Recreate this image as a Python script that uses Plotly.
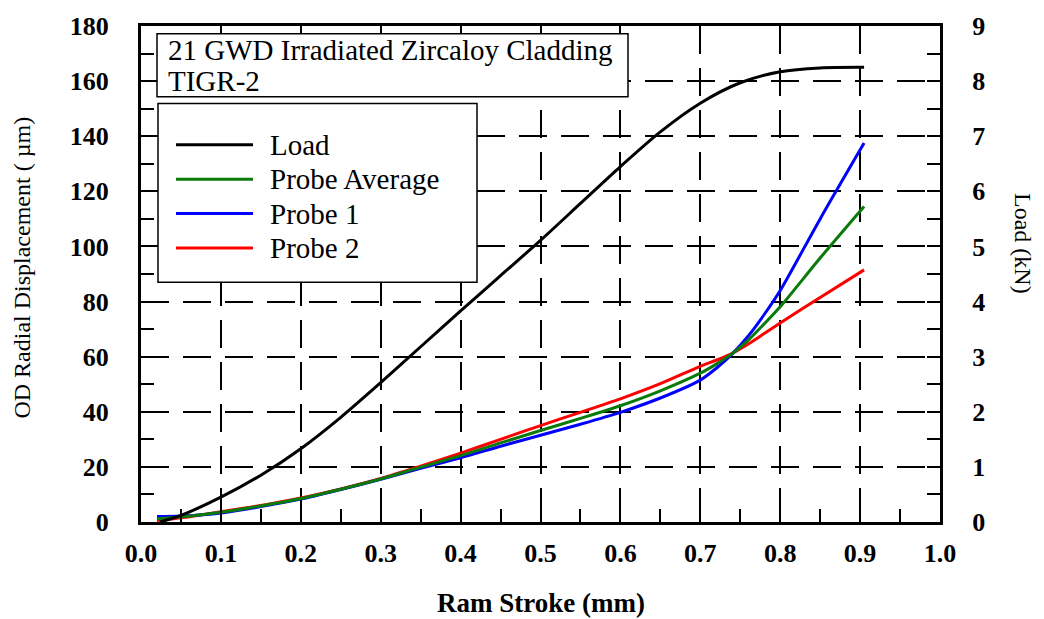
import plotly.graph_objects as go

# Ram stroke (mm) for the load record
stroke_load = [0.024, 0.05, 0.1, 0.15, 0.2, 0.25, 0.3, 0.35, 0.4, 0.45, 0.5,
               0.55, 0.6, 0.65, 0.7, 0.75, 0.8, 0.85, 0.905]
# Applied load (kN)
load_kn = [0.0, 0.12, 0.45, 0.85, 1.33, 1.9, 2.53, 3.18, 3.83, 4.47, 5.11,
           5.78, 6.45, 7.08, 7.6, 7.97, 8.17, 8.24, 8.25]

# Ram stroke (mm) for the displacement probes
stroke_probe = [0.02, 0.05, 0.1, 0.15, 0.2, 0.25, 0.3, 0.35, 0.4, 0.45, 0.5, 0.55,
                0.6, 0.65, 0.7, 0.72, 0.74, 0.76, 0.78, 0.8, 0.85, 0.905]
# OD radial displacement (µm)
probe_avg = [1.2, 1.8, 3.5, 5.8, 8.5, 11.9, 15.6, 19.9, 24.1, 28.7, 33.2, 37.6,
             42.2, 47.6, 54.0, 57.3, 61.1, 66.0, 71.9, 78.1, 95.8, 114.5]
probe_1 = [2.0, 2.2, 3.3, 5.6, 8.3, 11.8, 15.5, 19.5, 23.3, 27.5, 31.5, 35.5,
           39.8, 45.0, 51.5, 55.8, 61.0, 67.5, 75.3, 84.0, 110.0, 137.5]
probe_2 = [0.5, 1.5, 3.7, 6.0, 8.7, 12.0, 15.8, 20.3, 25.0, 30.0, 35.0, 39.8,
           44.7, 50.2, 56.5, 58.7, 61.2, 64.6, 68.4, 72.2, 81.5, 91.5]

series_names = ["Load", "Probe Average", "Probe 1", "Probe 2"]
series_colors = ["#000000", "#0a7a0a", "#0000ff", "#ff0000"]

x_ticks = [0.0, 0.1, 0.2, 0.3, 0.4, 0.5, 0.6, 0.7, 0.8, 0.9, 1.0]
x_tick_text = ["0.0", "0.1", "0.2", "0.3", "0.4", "0.5", "0.6", "0.7", "0.8", "0.9", "1.0"]

title_lines = ["21 GWD Irradiated Zircaloy Cladding", "TIGR-2"]

FONT = "Liberation Serif"
W, H = 1044, 619
L, R, T, B = 141, 104, 17, 97
PW, PH = W - L - R, H - T - B


def px_x(px):
    return (px - L) / PW


def px_y(py):
    return (H - B - py) / PH


fig = go.Figure()
line_common = dict(width=3, shape="spline", smoothing=0.8)
fig.add_trace(go.Scatter(x=stroke_probe, y=probe_2, mode="lines", name=series_names[3],
                         line=dict(color=series_colors[3], **line_common), yaxis="y"))
fig.add_trace(go.Scatter(x=stroke_probe, y=probe_1, mode="lines", name=series_names[2],
                         line=dict(color=series_colors[2], **line_common), yaxis="y"))
fig.add_trace(go.Scatter(x=stroke_probe, y=probe_avg, mode="lines", name=series_names[1],
                         line=dict(color=series_colors[1], **line_common), yaxis="y"))
fig.add_trace(go.Scatter(x=stroke_load, y=load_kn, mode="lines", name=series_names[0],
                         line=dict(color=series_colors[0], **line_common), yaxis="y2"))

grid = dict(showgrid=True, gridcolor="black", gridwidth=2, griddash="28px,14px")
tickfont = dict(family=FONT, size=26, color="black", weight="bold")
tick_common = dict(ticklen=13, tickwidth=2, tickcolor="black")

fig.update_layout(
    width=W, height=H,
    margin=dict(l=L, r=R, t=T, b=B),
    paper_bgcolor="white", plot_bgcolor="white",
    showlegend=False,
    xaxis=dict(range=[0, 1], tickvals=x_ticks, ticktext=x_tick_text, ticks="inside",
               minor=dict(dtick=0.05, tick0=0, ticks="inside", showgrid=False, **tick_common),
               showline=True, linecolor="black", linewidth=3, mirror=True,
               tickfont=tickfont, ticklabelstandoff=6, zeroline=False,
               **tick_common, **grid),
    yaxis=dict(range=[0, 180], dtick=20, tick0=0, ticks="inside",
               minor=dict(dtick=10, tick0=0, ticks="inside", showgrid=False, **tick_common),
               showline=True, linecolor="black", linewidth=3, mirror=True,
               tickfont=tickfont, ticklabelstandoff=24, zeroline=False,
               **tick_common, **grid),
    yaxis2=dict(range=[0, 9], dtick=1, tick0=0, overlaying="y", side="right", ticks="inside",
                minor=dict(dtick=0.5, tick0=0, ticks="inside", showgrid=False, **tick_common),
                showline=True, linecolor="black", linewidth=3,
                tickfont=tickfont, ticklabelstandoff=24, showgrid=False, zeroline=False,
                **tick_common),
)

shapes = []
annotations = []

# Title box
shapes.append(dict(type="rect", xref="paper", yref="paper",
                   x0=px_x(157), x1=px_x(628), y0=px_y(89), y1=px_y(25),
                   line=dict(color="black", width=1.5), fillcolor="white", layer="above"))
for text, row in zip(title_lines, [41, 73]):
    annotations.append(dict(xref="paper", yref="paper", x=px_x(166), y=px_y(row),
                            xanchor="left", yanchor="middle", showarrow=False,
                            text=text, font=dict(family=FONT, size=29, color="black")))

# Legend box
shapes.append(dict(type="rect", xref="paper", yref="paper",
                   x0=px_x(158), x1=px_x(477), y0=px_y(278), y1=px_y(96),
                   line=dict(color="black", width=1.5), fillcolor="white", layer="above"))
legend_rows = [138, 173, 208, 243]
for name, color, row in zip(series_names, series_colors, legend_rows):
    shapes.append(dict(type="line", xref="paper", yref="paper",
                       x0=px_x(176), x1=px_x(253), y0=px_y(row), y1=px_y(row),
                       line=dict(color=color, width=3), layer="above"))
    annotations.append(dict(xref="paper", yref="paper", x=px_x(268), y=px_y(row),
                            xanchor="left", yanchor="middle", showarrow=False,
                            text=name, font=dict(family=FONT, size=29, color="black")))

# Axis titles
annotations.append(dict(xref="paper", yref="paper", x=px_x(22), y=px_y(263),
                        xanchor="center", yanchor="middle", showarrow=False, textangle=-90,
                        text="OD Radial Displacement ( µm)",
                        font=dict(family=FONT, size=24, color="black")))
annotations.append(dict(xref="paper", yref="paper", x=px_x(541), y=px_y(604),
                        xanchor="center", yanchor="middle", showarrow=False,
                        text="<b>Ram Stroke (mm)</b>",
                        font=dict(family=FONT, size=27, color="black")))
annotations.append(dict(xref="paper", yref="paper", x=px_x(1023), y=px_y(238),
                        xanchor="center", yanchor="middle", showarrow=False, textangle=90,
                        text="Load (kN)",
                        font=dict(family=FONT, size=24, color="black")))

fig.update_layout(shapes=shapes, annotations=annotations)
fig.write_html("out.html")
